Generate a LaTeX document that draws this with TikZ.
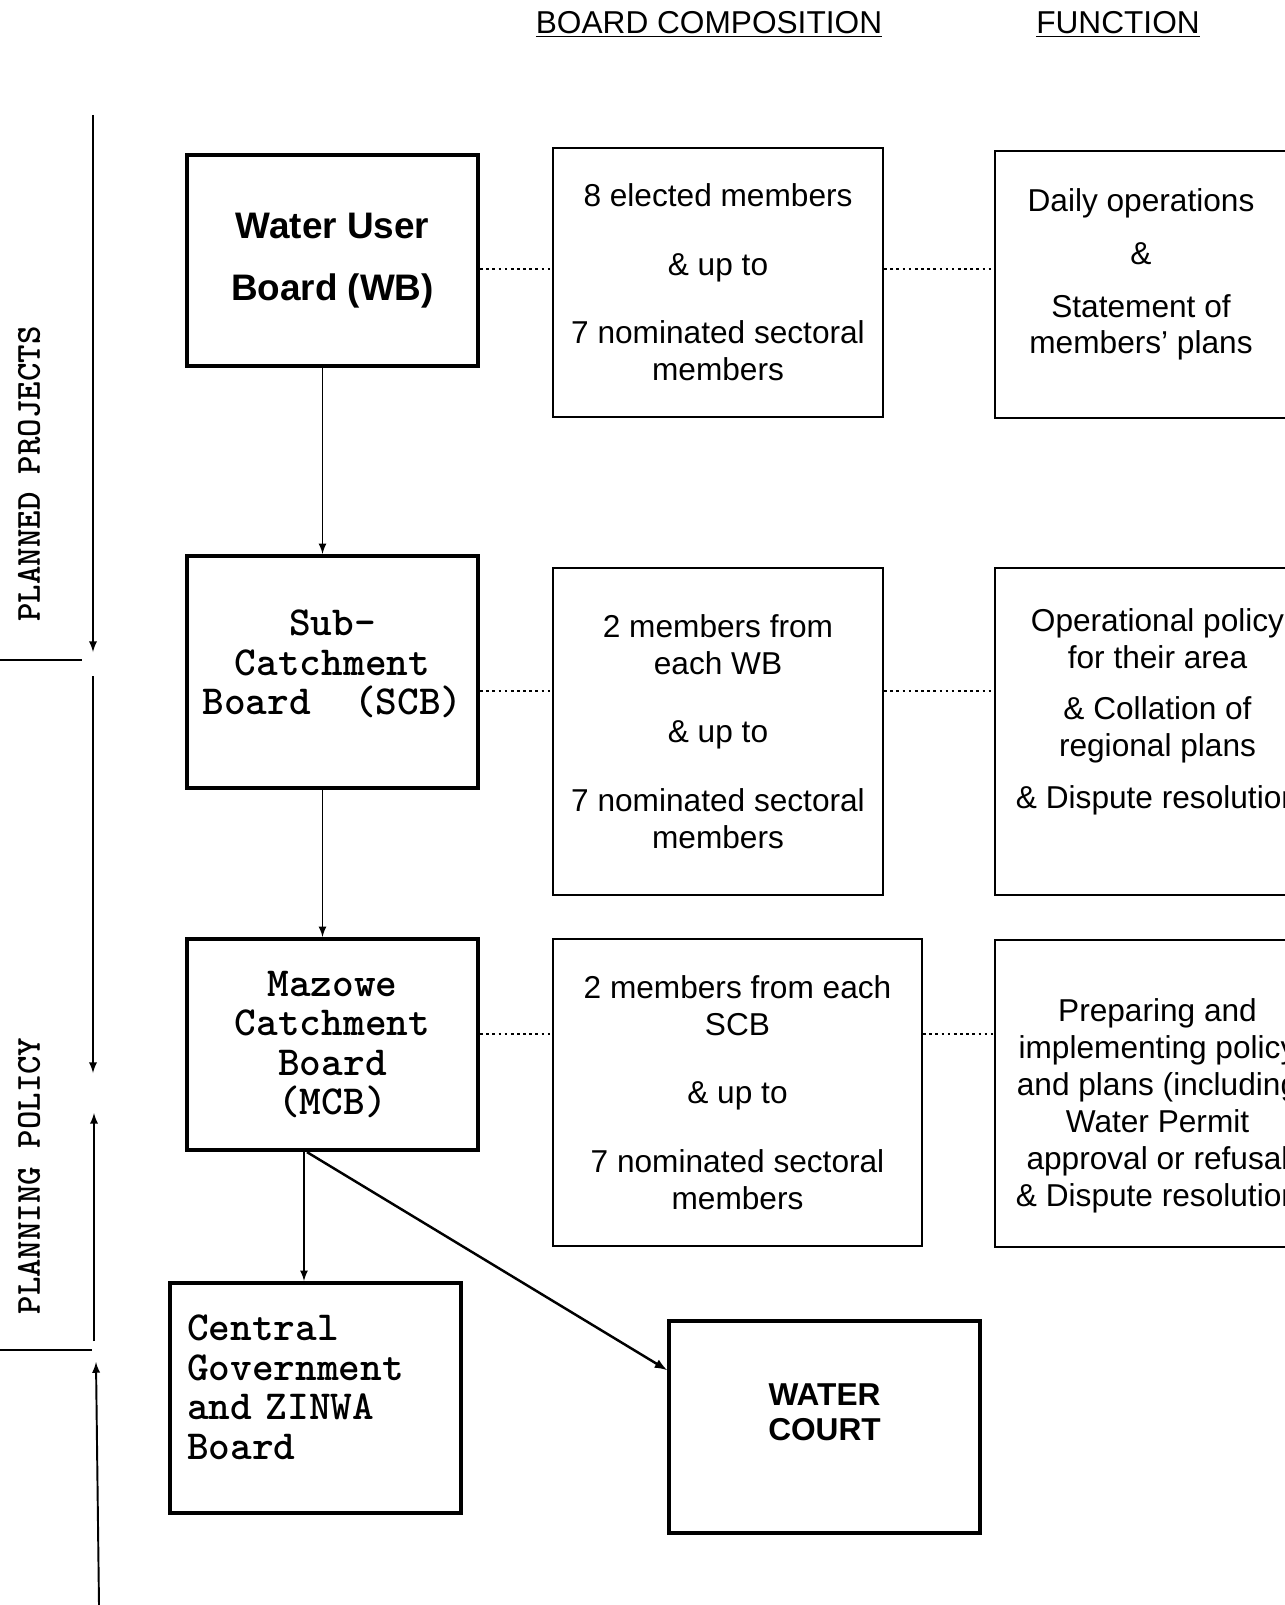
\documentclass[tikz,border=0pt]{standalone}
\usepackage{fontspec}
\setmainfont{Liberation Sans}
\newfontfamily\typefont{lmmonolt10-bold.otf}
\usetikzlibrary{calc}
\newcommand\armtext{\fontsize{18}{21}\selectfont}
\newcommand\armbold{\fontsize{21}{25}\selectfont\bfseries}
\newcommand\armcaps{\fontsize{18}{20}\selectfont\bfseries}
\newcommand\typetext{\fontsize{23.5}{22.5}\selectfont\typefont}
\newcommand\typeside{\fontsize{20}{22}\selectfont\typefont}
\tikzset{
	myboard/.style={rectangle, draw=black, line width=2.4pt, minimum width=5.82cm,
				inner sep=0.2cm, text centered, align=center, text=black
				},
	mycomp/.style={rectangle, draw=black, line width=1.3pt, inner sep=0.2cm,
				text centered, align=center, font=\armtext, text=black
				},
	myhead/.style={inner sep=1pt, font=\armtext, text=black
				},
	mysidelabel/.style={rotate=90, inner sep=0pt, font=\typeside, text=black
				},
	myarrow/.style={->, black, >=latex, line width=1pt
				},
	myaxis/.style={->, black, >=latex, line width=1.1pt
				},
	mytick/.style={black, line width=1.1pt
				},
	mydots/.style={black, line width=0.6pt, dash pattern=on 1.5pt off 2pt
				}
	}

\begin{document}
\begin{tikzpicture}

				\useasboundingbox (0,0) rectangle (25.7,-32.1);
				\clip (0,0) rectangle (25.7,-32.1);

				% column headings
				\node[myhead] (headcomp) at (14.18,-0.48) {\underline{BOARD COMPOSITION}};
				\node[myhead] (headfunc) at (22.36,-0.48) {\underline{FUNCTION}};

				% boards
				\node[myboard, minimum height=4.22cm, font=\armbold] (wb) at (6.65,-5.21)
				{Water User\\[10pt]Board (WB)};

				\node[myboard, minimum height=4.64cm, font=\typetext, text depth=11pt] (scb) at ($(wb) + (0,-8.23)$)
				{Sub-\\Catchment\\Board~~(SCB)};

				\node[myboard, minimum height=4.22cm, font=\typetext] (mcb) at ($(scb) + (0,-7.45)$)
				{Mazowe\\Catchment\\Board\\(MCB)};

				\node[myboard, minimum height=4.6cm, font=\typetext, text width=5.14cm, inner xsep=0.34cm, align=left, text depth=80pt] (cg) at ($(mcb) + (-0.34,-7.07)$)
				{Central\\Government\\and ZINWA\\Board};

				\node[myboard, line width=2.2pt, minimum width=6.22cm, minimum height=4.24cm, font=\armcaps, text depth=17pt] (wc) at ($(mcb) + (9.84,-7.65)$)
				{WATER\\COURT};

				% board composition
				\node[mycomp, minimum width=6.6cm, minimum height=5.38cm] (comp1) at ($(wb) + (7.71,-0.44)$)
				{8 elected members\\[18pt]\& up to\\[18pt]7 nominated sectoral\\members};

				\node[mycomp, minimum width=6.6cm, minimum height=6.54cm] (comp2) at ($(scb) + (7.71,-1.19)$)
				{2 members from\\each WB\\[18pt]\& up to\\[18pt]7 nominated sectoral\\members};

				\node[mycomp, minimum width=7.38cm, minimum height=6.14cm] (comp3) at ($(mcb) + (8.10,-0.96)$)
				{2 members from each\\SCB\\[18pt]\& up to\\[18pt]7 nominated sectoral\\members};

				% function
				\node[mycomp, minimum width=5.84cm, minimum height=5.34cm, text depth=15pt] (func1) at ($(comp1) + (8.46,-0.04)$)
				{Daily operations\\[9pt]\&\\[9pt]Statement of\\members' plans};

				\node[mycomp, minimum width=6.5cm, minimum height=6.54cm, text depth=26pt] (func2) at ($(comp2) + (8.79,0)$)
				{Operational policy\\for their area\\[8pt]\& Collation of\\regional plans\\[9pt]\& Dispute resolution};

				\node[mycomp, minimum width=6.5cm, minimum height=6.14cm, text height=132pt] (func3) at ($(comp3) + (8.40,-0.02)$)
				{Preparing and\\implementing policy\\and plans (including\\Water Permit\\approval or refusal\\\& Dispute resolution};

				% dotted links
				\coordinate (row1) at ($(wb.east) + (0,-0.17)$);
				\coordinate (row2) at ($(scb.east) + (0,-0.38)$);
				\coordinate (row3) at ($(mcb.east) + (0,0.21)$);

				\draw[mydots] (row1) -- (row1 -| comp1.west);
				\draw[mydots] (row1 -| comp1.east) -- (row1 -| func1.west);
				\draw[mydots] (row2) -- (row2 -| comp2.west);
				\draw[mydots] (row2 -| comp2.east) -- (row2 -| func2.west);
				\draw[mydots] (row3) -- (row3 -| comp3.west);
				\draw[mydots] (row3 -| comp3.east) -- (row3 -| func3.west);

				% flow between boards
				\draw[myarrow] ($(wb.south) + (-0.2,0)$) -- ($(scb.north) + (-0.2,0)$);
				\draw[myarrow] ($(scb.south) + (-0.2,0)$) -- ($(mcb.north) + (-0.2,0)$);

				\coordinate (mcbout) at ($(mcb.south) + (-0.57,0)$);
				\draw[myarrow] (mcbout) -- (mcbout |- cg.north);

				\draw[myarrow, line width=1.4pt] ($(mcb.south) + (-0.51,0)$) -- ($(wc.north west) + (0,-1.02)$);

				% side axis
				\coordinate (axtop) at (1.86,-2.30);
				\coordinate (axmid) at (1.86,-13.04);
				\coordinate (axmidb) at (1.86,-13.52);
				\coordinate (axlow) at (1.86,-21.46);
				\coordinate (axup) at (1.88,-22.26);
				\coordinate (axupb) at (1.88,-26.82);
				\coordinate (axbot) at (1.92,-27.24);
				\coordinate (axend) at (1.98,-32.1);
				\coordinate (tickone) at (0,-13.2);
				\coordinate (ticktwo) at (0,-27.0);

				\draw[myaxis] (axtop) -- (axmid);
				\draw[myaxis] (axmidb) -- (axlow);
				\draw[myaxis] (axupb) -- (axup);
				\draw[myaxis] (axend) -- (axbot);

				\draw[mytick] (tickone) -- ++(1.64,0);
				\draw[mytick] (ticktwo) -- ++(1.84,0);

				\node[mysidelabel] (planproj) at (0.58,-9.48) {PLANNED PROJECTS};
				\node[mysidelabel] (planpol) at (0.58,-23.52) {PLANNING POLICY};

\end{tikzpicture}
\end{document}
